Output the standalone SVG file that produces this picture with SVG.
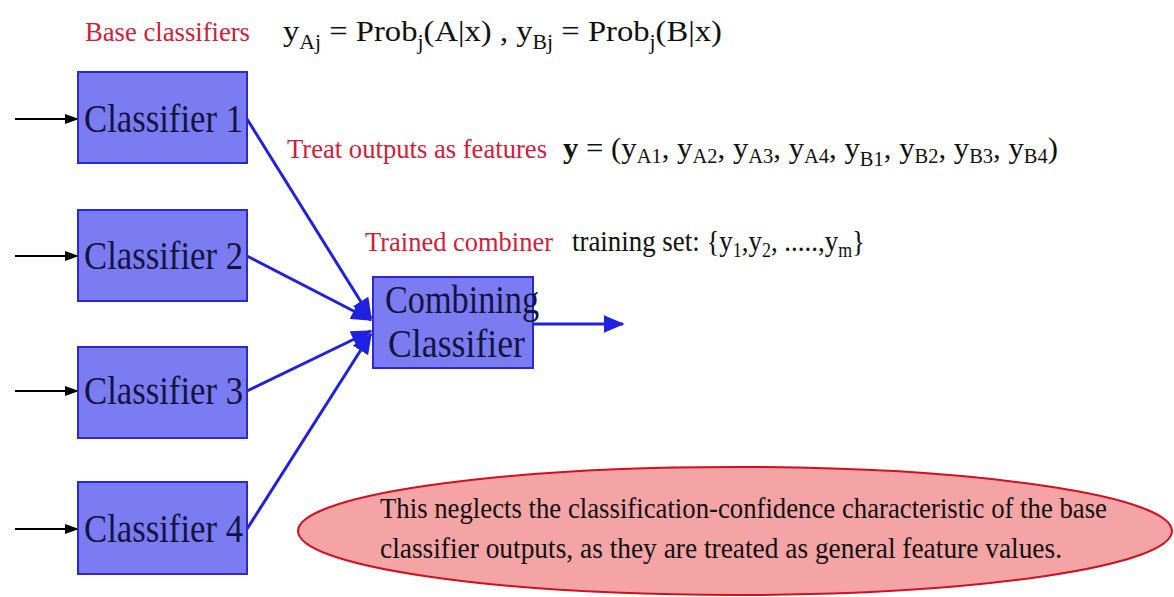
<svg xmlns="http://www.w3.org/2000/svg" width="1174" height="597" viewBox="0 0 1174 597">
<defs>
<style>
.box{fill:#7b7bf2;stroke:#2a2ad0;stroke-width:2}
.lbl{font-family:"Liberation Serif",serif;font-size:40px;fill:#141440}
.red{font-family:"Liberation Serif",serif;font-size:27px;fill:#d0203a}
.blk{font-family:"Liberation Serif",serif;font-size:30px;fill:#111}
.sub{font-size:20px}
.blue{stroke:#2020e0;stroke-width:3;fill:none}
.inp{stroke:#000;stroke-width:2;fill:none}
</style>
<marker id="ab" markerWidth="7" markerHeight="6" refX="6.5" refY="3" orient="auto" markerUnits="strokeWidth"><path d="M0,0 L7,3 L0,6 z" fill="#2020e0"/></marker>
<marker id="ak" markerWidth="7" markerHeight="6" refX="6" refY="3" orient="auto" markerUnits="strokeWidth"><path d="M0,0.5 L7,3 L0,5.5 z" fill="#000"/></marker>
</defs>
<rect width="1174" height="597" fill="#fff"/>
<g id="connectors">
<line class="inp" x1="15" y1="119" x2="77" y2="119" marker-end="url(#ak)"/>
<line class="inp" x1="15" y1="256" x2="77" y2="256" marker-end="url(#ak)"/>
<line class="inp" x1="15" y1="391" x2="77" y2="391" marker-end="url(#ak)"/>
<line class="inp" x1="15" y1="529" x2="77" y2="529" marker-end="url(#ak)"/>
<line class="blue" x1="247" y1="119" x2="371" y2="318" marker-end="url(#ab)"/>
<line class="blue" x1="247" y1="256" x2="371" y2="320" marker-end="url(#ab)"/>
<line class="blue" x1="247" y1="391" x2="371" y2="331" marker-end="url(#ab)"/>
<line class="blue" x1="247" y1="529" x2="371" y2="334" marker-end="url(#ab)"/>
<line class="blue" x1="533" y1="324" x2="623" y2="324" marker-end="url(#ab)"/>
</g>
<g id="classifier1"><rect class="box" x="78" y="72" width="169" height="91"/><text class="lbl" x="84" y="132" textLength="159" lengthAdjust="spacingAndGlyphs">Classifier 1</text></g>
<g id="classifier2"><rect class="box" x="78" y="210" width="169" height="91"/><text class="lbl" x="84" y="269" textLength="159" lengthAdjust="spacingAndGlyphs">Classifier 2</text></g>
<g id="classifier3"><rect class="box" x="78" y="347" width="169" height="91"/><text class="lbl" x="84" y="404" textLength="159" lengthAdjust="spacingAndGlyphs">Classifier 3</text></g>
<g id="classifier4"><rect class="box" x="78" y="482" width="169" height="92"/><text class="lbl" x="84" y="542" textLength="159" lengthAdjust="spacingAndGlyphs">Classifier 4</text></g>
<g id="combiner"><rect class="box" x="373" y="277" width="160" height="91"/>
<text class="lbl" x="385" y="313" font-size="37" textLength="154" lengthAdjust="spacingAndGlyphs">Combining</text>
<text class="lbl" x="388" y="357" font-size="37" textLength="137" lengthAdjust="spacingAndGlyphs">Classifier</text></g>
<g id="base-label">
<text class="red" x="85" y="41" textLength="165" lengthAdjust="spacingAndGlyphs">Base classifiers</text>
<text class="blk" x="283" y="41" textLength="439" lengthAdjust="spacingAndGlyphs">y<tspan class="sub" dy="8">Aj</tspan><tspan dy="-8"> = Prob</tspan><tspan class="sub" dy="8">j</tspan><tspan dy="-8">(A|x) , y</tspan><tspan class="sub" dy="8">Bj</tspan><tspan dy="-8"> = Prob</tspan><tspan class="sub" dy="8">j</tspan><tspan dy="-8">(B|x)</tspan></text>
</g>
<g id="features-label">
<text class="red" x="287" y="158" textLength="260" lengthAdjust="spacingAndGlyphs">Treat outputs as features</text>
<text class="blk" x="563" y="158" textLength="495" lengthAdjust="spacingAndGlyphs"><tspan font-weight="bold">y</tspan> = (y<tspan class="sub" dy="5">A1</tspan><tspan dy="-5">, y</tspan><tspan class="sub" dy="5">A2</tspan><tspan dy="-5">, y</tspan><tspan class="sub" dy="5">A3</tspan><tspan dy="-5">, y</tspan><tspan class="sub" dy="5">A4</tspan><tspan dy="-5">, y</tspan><tspan class="sub" dy="8">B1</tspan><tspan dy="-8">, y</tspan><tspan class="sub" dy="5">B2</tspan><tspan dy="-5">, y</tspan><tspan class="sub" dy="5">B3</tspan><tspan dy="-5">, y</tspan><tspan class="sub" dy="5">B4</tspan><tspan dy="-5">)</tspan></text>
</g>
<g id="combiner-label">
<text class="red" x="365" y="251" textLength="188" lengthAdjust="spacingAndGlyphs">Trained combiner</text>
<text class="blk" x="572" y="251" font-size="28" textLength="293" lengthAdjust="spacingAndGlyphs">training set: {y<tspan class="sub" dy="6">1</tspan><tspan dy="-6">,y</tspan><tspan class="sub" dy="6">2</tspan><tspan dy="-6">, .....,y</tspan><tspan class="sub" dy="6">m</tspan><tspan dy="-6">}</tspan></text>
</g>
<g id="note">
<ellipse cx="735" cy="531" rx="437" ry="64" fill="#f4a4a4" stroke="#d01020" stroke-width="2"/>
<text class="blk" x="380" y="518" font-size="27" textLength="727" lengthAdjust="spacingAndGlyphs">This neglects the classification-confidence characteristic of the base</text>
<text class="blk" x="380" y="558" font-size="27" textLength="682" lengthAdjust="spacingAndGlyphs">classifier outputs, as they are treated as general feature values.</text>
</g>
</svg>
